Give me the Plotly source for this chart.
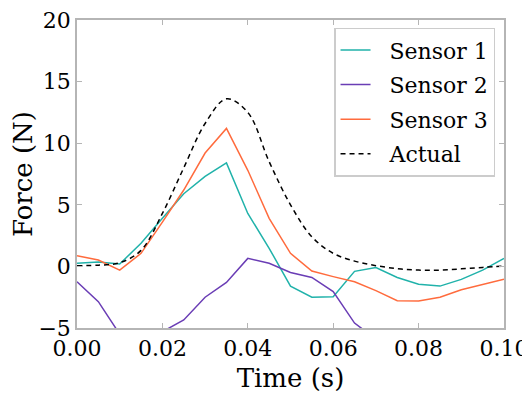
import plotly.graph_objects as go

# tempo (s) e leituras dos sensores (N)
t = [0.000, 0.005, 0.010, 0.015, 0.020, 0.025, 0.030, 0.035, 0.040, 0.045, 0.050,
     0.055, 0.060, 0.065, 0.070, 0.075, 0.080, 0.085, 0.090, 0.095, 0.100]
sensor1 = [0.25, 0.36, 0.2, 1.87, 3.9, 5.9, 7.3, 8.4, 4.3, 1.47, -1.6,
           -2.5, -2.46, -0.4, -0.1, -0.9, -1.45, -1.6, -1.05, -0.3, 0.65]
sensor2 = [-1.24, -2.86, -5.5, -6.2, -5.3, -4.35, -2.5, -1.3, 0.65, 0.25, -0.5,
           -0.9, -2.05, -4.6, -5.9, -6.5, -6.8, -6.6, -6.2, -6.0, -5.8]
sensor3 = [0.87, 0.52, -0.3, 1.06, 3.6, 6.2, 9.2, 11.2, 7.8, 3.9, 1.06,
           -0.37, -0.83, -1.25, -1.97, -2.78, -2.8, -2.5, -1.9, -1.5, -1.05]
actual = [0.06, 0.1, 0.3, 1.3, 4.3, 8.0, 11.6, 13.6, 12.5, 8.5, 5.0,
          2.4, 1.06, 0.43, 0.06, -0.18, -0.3, -0.3, -0.2, -0.08, 0.03]

x_ticks = [0.0, 0.02, 0.04, 0.06, 0.08, 0.1]
x_labels = ["0.00", "0.02", "0.04", "0.06", "0.08", "0.10"]
y_ticks = [-5, 0, 5, 10, 15, 20]

fonte = "'DejaVu Serif', serif"
pad = "\u00a0" * 2  # afasta o texto da amostra de linha, como no original

fig = go.Figure()
fig.add_trace(go.Scatter(x=t, y=sensor1, mode="lines", name=pad + "Sensor 1",
                         legendgroup="s1", line=dict(color="#20B2AA", width=1.5)))
fig.add_trace(go.Scatter(x=t, y=sensor2, mode="lines", name=pad + "Sensor 2",
                         legendgroup="s2", line=dict(color="#6A3DB5", width=1.5)))
fig.add_trace(go.Scatter(x=t, y=sensor3, mode="lines", name=pad + "Sensor 3",
                         legendgroup="s3", line=dict(color="#FF6B3D", width=1.5)))
fig.add_trace(go.Scatter(x=t, y=actual, mode="lines", name=pad + "Actual",
                         legendgroup="act",
                         line=dict(color="black", width=1.5, dash="5px,4px",
                                   shape="spline")))

eixo = dict(showgrid=False, zeroline=False, showline=True, linecolor="#b5b5b5",
            linewidth=1.5, mirror="ticks", ticks="inside", ticklen=5,
            tickcolor="#b5b5b5", tickwidth=1, automargin=False,
            ticklabeloverflow="allow",
            tickfont=dict(family=fonte, size=22, color="black"))

# a página tem 8 px de margem no body, por isso as margens descontam esse deslocamento
fig.update_layout(
    width=530, height=399,
    margin=dict(l=69, r=34, t=12, b=79),
    paper_bgcolor="white", plot_bgcolor="white",
    font=dict(family=fonte, size=22, color="black"),
    xaxis=dict(range=[0, 0.1], tickvals=x_ticks, ticktext=x_labels,
               title=dict(text="Time (s)", standoff=9), **eixo),
    yaxis=dict(range=[-5, 20], tickvals=y_ticks,
               title=dict(text="Force (N)", standoff=8), **eixo),
    legend=dict(x=0.979, y=0.975, xanchor="right", yanchor="top",
                bgcolor="white", bordercolor="#cccccc", borderwidth=1.5,
                font=dict(family=fonte, size=22), tracegroupgap=3,
                itemwidth=30),
    showlegend=True,
)

fig.write_html("out.html")
